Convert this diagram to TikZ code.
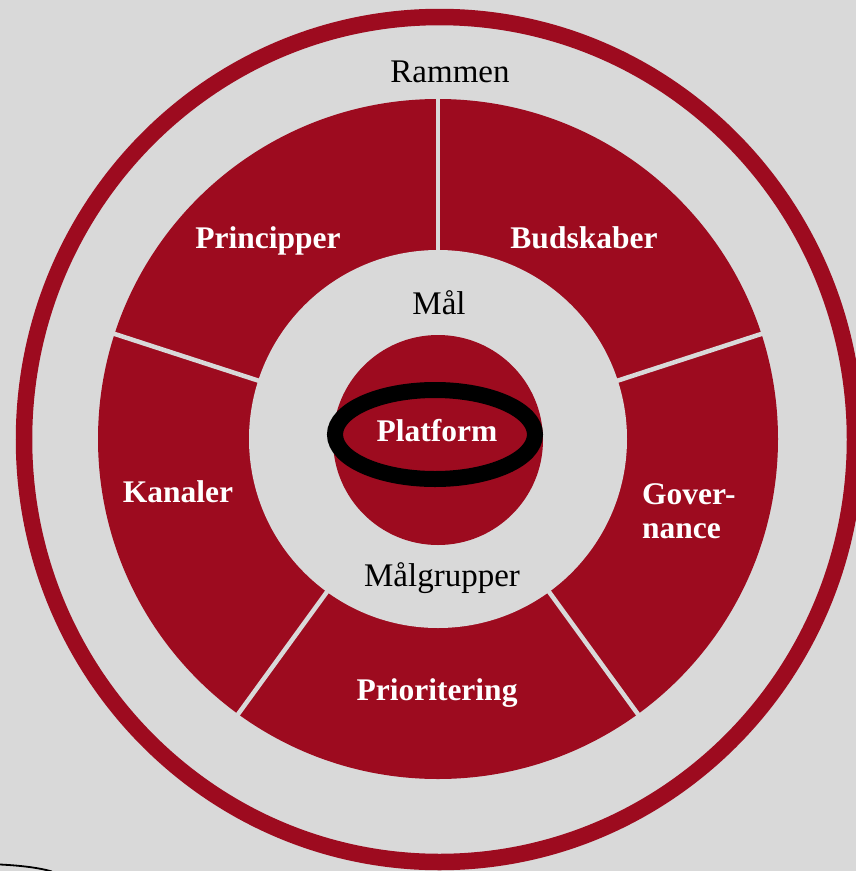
\documentclass[tikz,border=0pt]{standalone}
\usepackage{fontspec}
\setmainfont{Liberation Serif}
\usetikzlibrary{calc}
\definecolor{bg}{HTML}{D9D9D9}
\definecolor{wine}{HTML}{9D0B1F}
\begin{document}
\begin{tikzpicture}[x=1pt,y=-1pt,
  lbl/.style={font=\fontsize{33}{36}\selectfont, text=black, inner sep=0pt},
  seglbl/.style={font=\fontsize{31.5}{34}\selectfont\bfseries, text=white, inner sep=0pt},
  divider/.style={draw=bg, line width=4.5pt},
  ringline/.style={draw=wine, line width=16.5pt},
  platring/.style={draw=black, line width=16pt}]
\useasboundingbox (0,0) rectangle (856,871);
\fill[bg] (0,0) rectangle (856,871);
\coordinate (c) at (438,439);
% outer frame ring
\draw[ringline] (439.5,439.5) ellipse [x radius=415.5pt, y radius=422.5pt];
% segment ring
\fill[wine] (c) circle[radius=340pt];
\fill[bg] (c) circle[radius=189pt];
\foreach \a in {18,90,162,234,306}
  \draw[divider] ($(c)+(\a:186pt)$) -- ($(c)+(\a:343pt)$);
% centre
\fill[wine] (438,440) circle[radius=105pt];
\draw[platring] (435,434.5) ellipse [x radius=100pt, y radius=44.5pt];
% labels
\node[lbl] (rammen) at (450,72) {Rammen};
\node[lbl] (maal) at (439,303) {Mål};
\node[lbl] (malgrupper) at (442,578) {Målgrupper};
\node[seglbl] (principper) at (268,241) {Principper};
\node[seglbl] (budskaber) at (584,238) {Budskaber};
\node[seglbl] (kanaler) at (178,492) {Kanaler};
\node[seglbl, align=left, anchor=west] (governance) at (642,511) {Gover-\\nance};
\node[seglbl] (prioritering) at (437,693) {Prioritering};
\node[seglbl] (platform) at (437,431) {Platform};
% stray curve bottom left
\draw[black, line width=1.8pt] (0,864.5) .. controls (20,865.5) and (38,867.5) .. (52,871.5);
\end{tikzpicture}
\end{document}
